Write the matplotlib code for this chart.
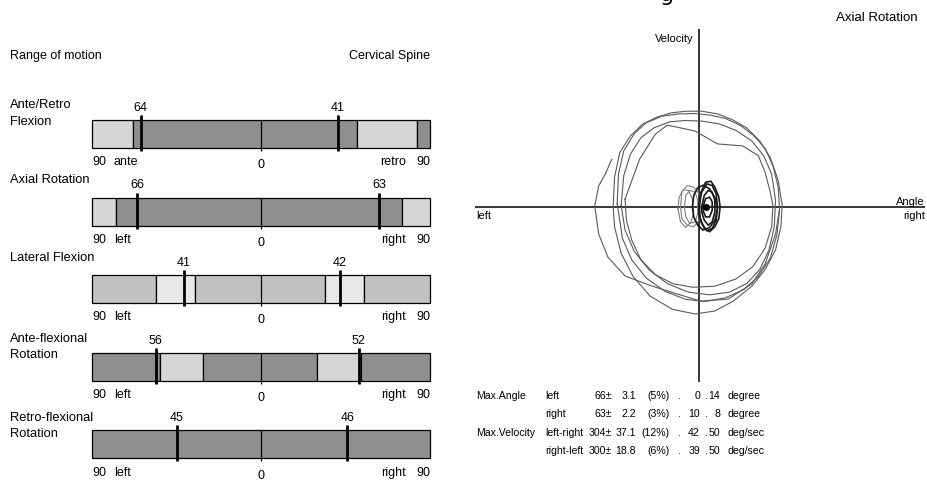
import matplotlib
matplotlib.use("Agg")
import matplotlib.pyplot as plt

W, H = 927, 481
FONT = ["Liberation Sans Narrow", "Liberation Sans", "DejaVu Sans"]
plt.rcParams["font.family"] = FONT

# ---- range of motion bars (degrees, left/ante side negative) ----
row_titles = ["Ante/Retro\nFlexion", "Axial Rotation", "Lateral Flexion",
              "Ante-flexional\nRotation", "Retro-flexional\nRotation"]
left_max = [64, 66, 41, 56, 45]
right_max = [41, 63, 42, 52, 46]
left_words = ["ante", "left", "left", "left", "left"]
right_words = ["retro", "right", "right", "right", "right"]
seg_edges = [
    [-90, -68, 51, 83, 90],
    [-90, -77, 75, 90],
    [-90, -56, -35, 34, 55, 90],
    [-90, -54, -31, 30, 53, 90],
    [-90, 90],
]
seg_shade = [
    ["light", "dark", "light", "dark"],
    ["light", "dark", "light"],
    ["mid", "pale", "mid", "pale", "mid"],
    ["dark", "light", "dark", "light", "dark"],
    ["dark"],
]
SHADES = {"dark": "#8f8f8f", "mid": "#c2c2c2", "light": "#d6d6d6", "pale": "#e8e8e8"}

# ---- axial rotation phase plot: angle (deg, right +) vs velocity (deg/s) ----
loop1_ang = [-65, -64, -60, -52, -43, -32, -21, -10, 2, 14, 25, 36, 46, 54, 60, 63,
             62, 58, 50, 40, 26, 12, -3, -20, -37, -50, -59, -64, -65]
loop1_vel = [0, 90, 165, 215, 250, 272, 285, 290, 290, 282, 265, 240, 200, 150, 80, 5,
             -60, -130, -190, -240, -285, -315, -324, -310, -270, -210, -140, -60, 0]
loop2_ang = [-62, -61, -57, -49, -40, -28, -15, -3, 9, 20, 31, 41, 50, 56, 60, 61,
             59, 54, 45, 34, 20, 5, -10, -26, -40, -51, -58, -62]
loop2_vel = [10, 100, 170, 222, 255, 275, 282, 283, 278, 268, 248, 218, 178, 125, 60, -10,
             -85, -155, -210, -250, -275, -286, -280, -255, -215, -160, -95, 10]
loop3_ang = [-59, -57, -52, -44, -34, -22, -10, 2, 15, 28, 40, 49, 55, 58,
             57, 53, 46, 36, 23, 8, -8, -24, -38, -49, -56, -59]
loop3_vel = [5, 95, 160, 210, 240, 258, 262, 260, 252, 232, 200, 155, 100, 20,
             -60, -130, -190, -232, -258, -266, -258, -232, -190, -135, -70, 5]
loop4_ang = [-56, -45, -33, -24, -3, 14, 33, 45, 50, 54, 56,
             55, 50, 41, 28, 12, -5, -20, -33, -44, -51, -55, -56]
loop4_vel = [24, 145, 221, 248, 230, 191, 185, 155, 106, 45, 3,
             -60, -125, -180, -218, -240, -243, -232, -205, -160, -100, -40, 24]
loop5_ang = [-66, -71, -76, -79, -76, -69, -56, -36, -16, 1, 22, 40, 50, 58, 61]
loop5_vel = [145, 100, 64, 3, -82, -152, -209, -239, -264, -285, -279, -233, -173, -82, -6]

small_dark = [
    ([0, 2, 6, 10, 13, 14, 13, 10, 6, 2, 0, 0],
     [0, 45, 70, 65, 40, 0, -40, -65, -72, -50, -20, 0]),
    ([2, 4, 7, 10, 12, 12, 10, 7, 4, 2, 2],
     [0, 35, 50, 45, 20, -15, -45, -55, -40, -15, 0]),
    ([3, 5, 8, 10, 10, 8, 5, 3, 3],
     [0, 25, 30, 15, -10, -30, -30, -10, 0]),
    ([0, 1, 5, 9, 12, 15, 16, 15, 12, 8, 4, 1, 0],
     [-5, 40, 75, 78, 60, 30, 0, -35, -60, -75, -65, -35, -5]),
    ([-5, -4, -1, 3, 8, 12, 14, 12, 8, 3, -1, -4, -5],
     [0, 35, 58, 66, 55, 28, -5, -40, -62, -70, -55, -30, 0]),
]
small_light = [
    ([-14, -13, -9, -4, 0, 1, 0, -4, -9, -13, -14],
     [0, 45, 65, 60, 40, 0, -40, -60, -55, -35, 0]),
    ([-11, -10, -7, -3, -1, -1, -3, -7, -10, -11],
     [0, 35, 50, 45, 20, -20, -45, -50, -30, 0]),
    ([-16, -15, -12, -8, -5, -4, -6, -10, -14, -16],
     [-5, 30, 52, 50, 25, -15, -45, -62, -45, -5]),
]

stat_group = ["Max.Angle", "", "Max.Velocity", ""]
stat_dir = ["left", "right", "left-right", "right-left"]
stat_mean = [66, 63, 304, 300]
stat_sd = [3.1, 2.2, 37.1, 18.8]
stat_cv = [5, 3, 12, 6]
stat_lo = [0, 10, 42, 39]
stat_hi = [14, 8, 50, 50]
stat_unit = ["degree", "degree", "deg/sec", "deg/sec"]


def px(x, y):
    return x / W, 1 - y / H


fig = plt.figure(figsize=(W / 100, H / 100), dpi=100)
fig.patch.set_facecolor("white")

# ---------------- left panel ----------------
ax = fig.add_axes([0, 0, 440 / W, 441 / H])
ax.set_xlim(-139, 95.3)
ax.set_ylim(4.459, -1.224)
ax.axis("off")

bh = 0.36
lfs = 9
for i in range(len(row_titles)):
    edges = seg_edges[i]
    for k, shade in enumerate(seg_shade[i]):
        ax.barh(i, edges[k + 1] - edges[k], left=edges[k], height=bh,
                color=SHADES[shade], edgecolor="black", linewidth=0.9)
    ax.vlines(0, i - bh / 2, i + bh / 2 + 0.04, color="black", lw=0.9)
    for v in (-left_max[i], right_max[i]):
        ax.vlines(v, i - bh / 2 - 0.065, i + bh / 2 + 0.04, color="black", lw=2.0)
        ax.text(v, i - 0.35, str(abs(v)), ha="center", va="center", fontsize=lfs)
    ax.text(-90, i + 0.35, "90", ha="left", va="center", fontsize=lfs)
    ax.text(-78.3, i + 0.35, left_words[i], ha="left", va="center", fontsize=lfs)
    ax.text(0, i + 0.39, "0", ha="center", va="center", fontsize=lfs)
    ax.text(77, i + 0.35, right_words[i], ha="right", va="center", fontsize=lfs)
    ax.text(90, i + 0.35, "90", ha="right", va="center", fontsize=lfs)

title_y = [113.5, 180, 258, 347, 426]
for t, y in zip(row_titles, title_y):
    fig.text(*px(10, y), t, ha="left", va="center", fontsize=9.3, linespacing=1.45)

fig.text(*px(10, 56), "Range of motion", ha="left", va="center", fontsize=9)
fig.text(*px(430, 56), "Cervical Spine", ha="right", va="center", fontsize=9)

# ---------------- right panel ----------------
ax2 = fig.add_axes([475 / W, 1 - 383 / H, 450 / W, 353 / H])
ax2.set_xlim(-169.7, 171.2)
ax2.set_ylim(-530, 539)
ax2.axis("off")
ax2.axhline(0, color="black", lw=1.1)
ax2.axvline(0, color="black", lw=1.1)

for a, v in [(loop1_ang, loop1_vel), (loop2_ang, loop2_vel), (loop3_ang, loop3_vel),
             (loop4_ang, loop4_vel), (loop5_ang, loop5_vel)]:
    ax2.plot(a, v, color="#5a5a5a", lw=0.8)
for a, v in small_light:
    ax2.plot(a, v, color="#808080", lw=0.8)
for a, v in small_dark:
    ax2.plot(a, v, color="#1a1a1a", lw=1.2)
ax2.plot([5], [0], "o", color="black", ms=4)

fig.text(*px(667, 1), "g", ha="center", va="baseline", fontsize=16, family="DejaVu Sans")
fig.text(*px(918, 18), "Axial Rotation", ha="right", va="center", fontsize=9.5)
fig.text(*px(694, 39), "Velocity", ha="right", va="center", fontsize=8)
fig.text(*px(925, 202), "Angle", ha="right", va="center", fontsize=8)
fig.text(*px(925, 216), "right", ha="right", va="center", fontsize=8)
fig.text(*px(476, 216), "left", ha="left", va="center", fontsize=8)

stat_y = [396, 414, 433, 451]
sfs = 7.6
for j in range(4):
    y = stat_y[j]
    fig.text(*px(476, y), stat_group[j], ha="left", va="center", fontsize=sfs)
    fig.text(*px(545, y), stat_dir[j], ha="left", va="center", fontsize=sfs)
    fig.text(*px(612, y), f"{stat_mean[j]}\u00b1", ha="right", va="center", fontsize=sfs)
    fig.text(*px(636, y), f"{stat_sd[j]}", ha="right", va="center", fontsize=sfs)
    fig.text(*px(670, y), f"({stat_cv[j]}%)", ha="right", va="center", fontsize=sfs)
    fig.text(*px(679, y), ".", ha="center", va="center", fontsize=sfs)
    fig.text(*px(700, y), f"{stat_lo[j]}", ha="right", va="center", fontsize=sfs)
    fig.text(*px(706, y), ".", ha="center", va="center", fontsize=sfs)
    fig.text(*px(720, y), f"{stat_hi[j]}", ha="right", va="center", fontsize=sfs)
    fig.text(*px(728, y), stat_unit[j], ha="left", va="center", fontsize=sfs)

fig.savefig("out.png", dpi=100)
